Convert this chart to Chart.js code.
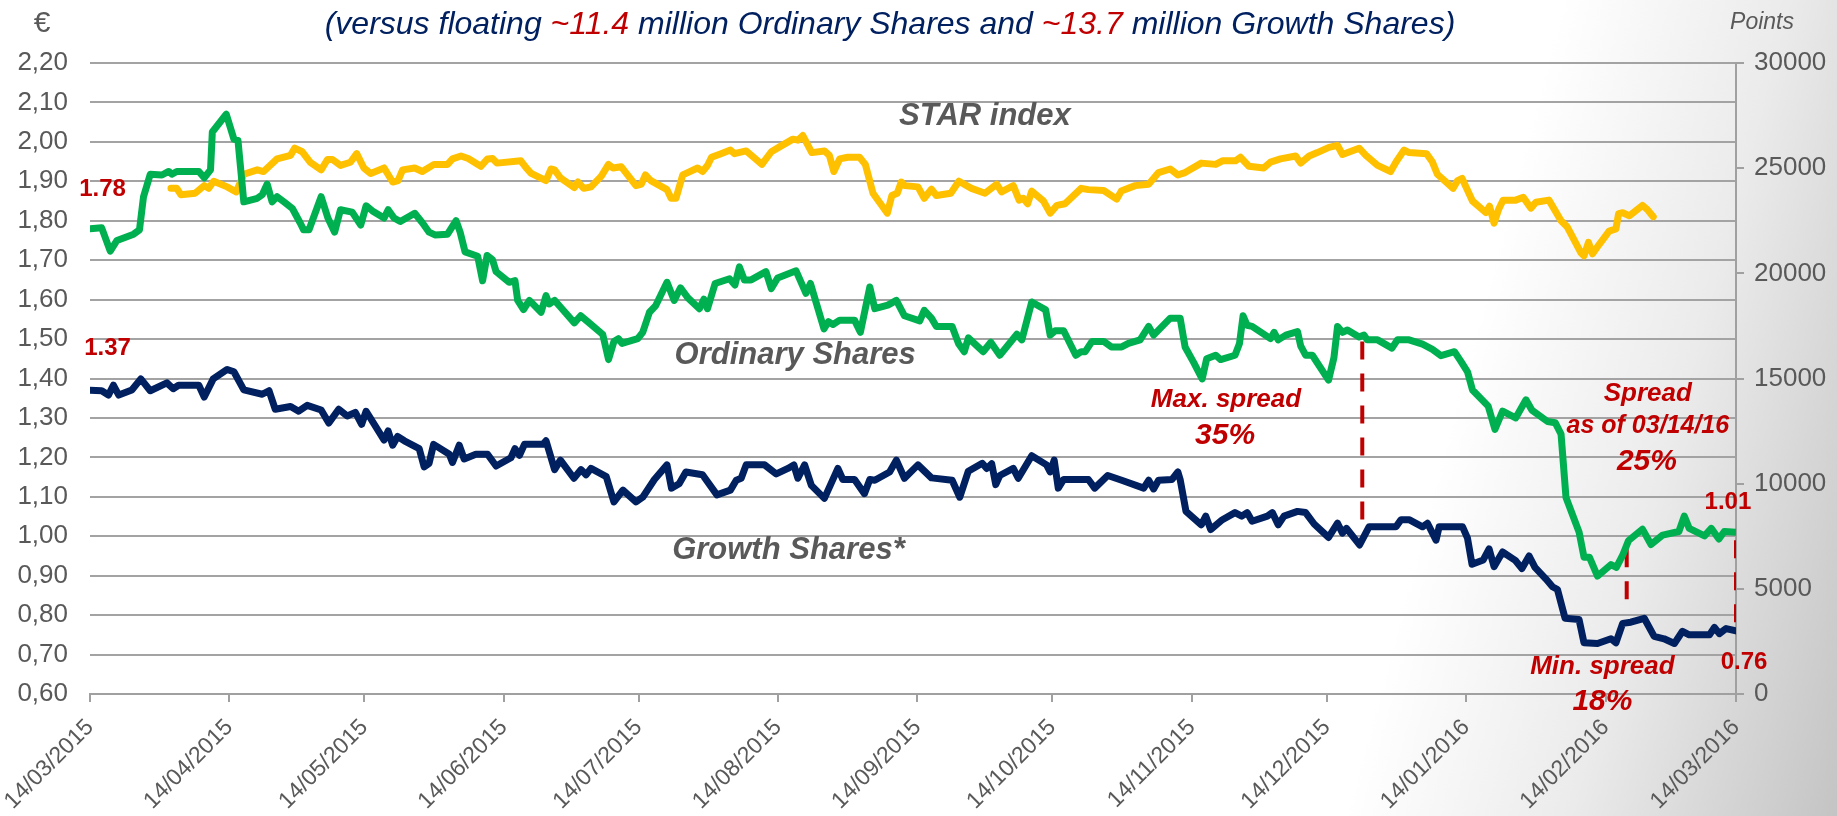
<!DOCTYPE html>
<html>
<head>
<meta charset="utf-8">
<script src="https://cdn.jsdelivr.net/npm/chart.js@4.4.1/dist/chart.umd.min.js"></script>
<style>
  html, body { margin: 0; padding: 0; }
  body {
    width: 1837px; height: 816px; overflow: hidden;
    background: linear-gradient(105deg, #ffffff 0%, #ffffff 76%, #ebebeb 87%, #c4c4c4 100%);
  }
  #wrap { position: absolute; left: 0; top: 0; width: 1837px; height: 816px; }
</style>
</head>
<body>
<div id="wrap"><canvas id="c" width="1837" height="816"></canvas></div>
<script>
// ---- X axis: days since 14/03/2015 ----
const monthDays = [0, 31, 61, 92, 122, 153, 184, 214, 245, 275, 306, 337, 366];
const monthLabels = ['14/03/2015','14/04/2015','14/05/2015','14/06/2015','14/07/2015','14/08/2015',
  '14/09/2015','14/10/2015','14/11/2015','14/12/2015','14/01/2016','14/02/2016','14/03/2016'];
const leftTicks = [0.6,0.7,0.8,0.9,1.0,1.1,1.2,1.3,1.4,1.5,1.6,1.7,1.8,1.9,2.0,2.1,2.2];
const rightTicks = [0, 5000, 10000, 15000, 20000, 25000, 30000];

// ---- Ordinary Shares (EUR) ----
const ordDays = [0,2.6,4.5,6.0,9.7,11.0,11.9,13.4,16.0,17.5,18.2,19.3,24.2,25.4,26.8,27.2,30.3,32.0,32.9,34.2,
  37.2,38.3,39.4,40.5,41.6,43.1,45.0,46.8,47.5,48.7,51.4,52.9,54.4,55.7,58.3,60.2,61.4,62.8,65.4,66.3,
  67.6,69.0,72.2,73.9,75.4,76.7,79.5,81.4,82.3,83.4,86.2,87.3,88.3,89.5,90.3,93.2,94.5,95.1,96.4,97.7,
  100.3,101.4,102.1,103.3,104.7,107.7,109.1,110.7,114.0,115.3,116.5,117.5,118.3,121.8,122.9,124.4,125.8,128.3,129.9,131.3,
  132.9,135.5,136.5,137.3,139.0,142.2,143.4,144.4,145.5,147.0,150.3,151.5,152.9,157.0,159.2,160.2,163.2,164.2,165.2,166.7,
  170.0,171.3,173.4,174.5,177.4,179.3,181.1,184.5,185.5,187.1,188.2,191.7,193.1,194.4,195.3,198.6,200.3,202.3,206.1,207.2,
  209.4,212.5,213.5,214.6,216.5,219.2,220.4,221.3,222.8,225.4,227.1,229.4,230.9,233.5,235.4,236.5,240.2,242.4,243.5,245.4,
  247.3,248.3,250.3,251.4,254.6,255.6,256.4,257.3,258.4,262.5,263.3,264.2,265.9,268.5,269.2,270.3,271.8,275.4,276.6,277.4,
  278.5,279.6,282.2,283.3,284.0,286.3,289.5,290.7,293.3,296.3,298.5,300.4,303.4,304.8,306.3,307.4,310.9,312.4,314.1,317.0,
  319.3,320.6,324.1,325.8,327.1,328.2,331.1,332.2,333.4,335.2,338.2,339.4,340.8,342.1,345.2,347.1,349.7,353.3,354.5,355.6,
  359.0,360.5,362.2,363.4,366.0];
const ordValues = [1.78,1.782,1.723,1.750,1.766,1.777,1.861,1.918,1.916,1.925,1.918,1.925,1.925,1.909,1.929,2.025,2.070,2.007,2.004,1.848,
  1.857,1.866,1.893,1.848,1.861,1.848,1.831,1.793,1.777,1.777,1.861,1.807,1.771,1.828,1.822,1.789,1.838,1.825,1.807,1.828,
  1.807,1.798,1.819,1.795,1.771,1.764,1.766,1.800,1.771,1.721,1.710,1.648,1.712,1.701,1.671,1.644,1.648,1.598,1.575,1.598,
  1.568,1.610,1.589,1.598,1.580,1.541,1.559,1.544,1.512,1.448,1.494,1.501,1.489,1.501,1.517,1.568,1.585,1.644,1.598,1.630,
  1.605,1.577,1.601,1.577,1.641,1.653,1.637,1.683,1.650,1.650,1.671,1.628,1.655,1.673,1.616,1.641,1.526,1.544,1.537,1.548,
  1.548,1.517,1.632,1.577,1.586,1.598,1.559,1.546,1.573,1.553,1.532,1.532,1.489,1.468,1.503,1.468,1.492,1.459,1.512,1.498,
  1.594,1.574,1.510,1.521,1.521,1.459,1.468,1.468,1.494,1.494,1.480,1.480,1.489,1.498,1.532,1.510,1.553,1.553,1.480,1.441,
  1.399,1.450,1.459,1.448,1.459,1.489,1.559,1.535,1.532,1.501,1.517,1.498,1.510,1.519,1.483,1.459,1.459,1.396,1.453,1.532,
  1.517,1.523,1.505,1.510,1.498,1.498,1.477,1.498,1.498,1.487,1.474,1.458,1.468,1.444,1.417,1.371,1.330,1.271,1.317,1.300,
  1.346,1.320,1.291,1.288,1.259,1.098,1.011,0.947,0.947,0.899,0.928,0.921,0.952,0.989,1.018,0.979,1.003,1.012,1.051,1.020,
  1.001,1.020,0.993,1.012,1.010];

// ---- Growth Shares (EUR) ----
const grDays = [0,2.6,4.1,5.2,6.4,9.3,11.3,13.4,17.1,18.5,19.7,24.2,25.4,27.4,30.5,32.0,34.2,38.3,39.8,41.2,
  44.6,46.4,48.3,51.4,53.1,55.3,57.2,59.0,60.4,61.4,65.4,66.3,67.3,68.4,69.9,73.2,74.3,75.4,76.4,79.9,
  80.6,82.1,83.2,85.8,88.4,90.3,93.6,94.5,95.5,96.6,100.7,101.4,103.3,104.6,107.6,109.2,110.3,111.4,114.8,116.5,
  118.5,121.4,122.9,125.5,128.3,129.3,131.0,132.5,136.2,139.4,142.4,143.7,144.8,145.9,150.0,152.6,155.2,156.5,157.4,158.9,
  160.4,163.3,166.3,167.4,170.0,172.2,173.4,174.5,177.8,179.3,181.1,184.1,187.1,191.7,193.4,195.3,198.4,199.4,200.5,201.4,
  202.3,205.3,206.4,209.4,212.7,213.5,214.4,215.3,216.5,222.0,223.4,226.3,229.4,234.3,235.4,236.5,237.6,240.6,241.9,242.4,
  243.7,247.1,248.1,249.2,251.8,254.6,256.1,257.3,258.4,261.8,262.9,264.2,265.5,268.5,270.3,272.2,275.4,277.4,278.5,279.4,
  282.3,284.4,290.4,291.5,293.3,296.3,297.4,299.3,300.0,305.2,306.3,307.3,309.8,311.1,312.2,314.1,317.0,318.4,320.0,321.3,
  323.7,325.2,326.3,328.0,331.1,332.2,335.2,338.2,339.3,340.8,342.6,345.6,347.8,350.0,352.3,354.1,355.6,360.1,361.2,362.3,
  363.8,366.0];
const grValues = [1.37,1.369,1.358,1.383,1.358,1.371,1.399,1.369,1.389,1.374,1.383,1.383,1.353,1.399,1.423,1.417,1.371,1.360,1.369,1.322,
  1.329,1.317,1.332,1.320,1.287,1.322,1.305,1.314,1.284,1.317,1.244,1.267,1.231,1.253,1.242,1.222,1.176,1.185,1.233,1.208,
  1.187,1.231,1.196,1.208,1.208,1.178,1.199,1.222,1.205,1.233,1.233,1.242,1.169,1.193,1.147,1.169,1.156,1.172,1.151,1.087,
  1.117,1.087,1.099,1.144,1.181,1.122,1.133,1.163,1.156,1.105,1.117,1.142,1.147,1.181,1.181,1.158,1.172,1.181,1.147,1.181,
  1.129,1.096,1.172,1.144,1.144,1.108,1.144,1.142,1.163,1.193,1.147,1.181,1.148,1.142,1.099,1.165,1.185,1.172,1.184,1.131,
  1.154,1.172,1.147,1.204,1.181,1.163,1.193,1.122,1.144,1.144,1.122,1.154,1.142,1.122,1.142,1.120,1.142,1.144,1.163,1.144,
  1.063,1.029,1.051,1.017,1.042,1.060,1.051,1.060,1.038,1.051,1.060,1.029,1.051,1.063,1.060,1.031,0.997,1.033,1.008,1.020,
  0.978,1.024,1.024,1.042,1.042,1.024,1.033,0.990,1.024,1.024,0.995,0.929,0.940,0.968,0.923,0.960,0.938,0.918,0.950,0.921,
  0.892,0.872,0.865,0.792,0.789,0.730,0.728,0.740,0.730,0.779,0.782,0.792,0.746,0.740,0.728,0.759,0.750,0.750,0.769,0.753,
  0.766,0.760];

// ---- STAR index (points, right axis) ----
const starDays = [18.0,19.3,20.2,23.4,25.4,26.4,27.5,30.5,32.5,34.2,37.2,38.6,41.6,44.6,45.5,47.2,49.0,51.4,52.8,53.9,
  55.7,57.9,59.3,60.9,62.4,65.4,67.3,68.5,69.5,72.2,73.9,76.5,79.5,80.6,82.5,84.1,86.9,88.4,89.5,90.5,
  95.8,97.0,98.1,101.4,102.5,103.3,104.6,107.7,108.5,109.8,111.4,113.7,115.3,116.3,118.1,121.4,122.6,123.5,124.7,128.3,
  129.2,130.3,131.8,132.9,135.1,136.2,137.3,138.2,140.3,142.4,143.3,145.9,149.4,151.5,153.7,156.3,157.4,158.5,160.5,163.3,
  164.4,165.4,166.7,168.5,171.1,172.4,174.1,177.3,178.3,179.5,180.4,181.2,184.1,185.5,187.1,188.2,191.4,193.2,196.0,199.0,
  201.6,202.7,205.3,206.6,207.5,208.5,209.4,212.0,213.5,215.0,216.8,220.4,222.0,225.4,228.3,229.3,232.4,235.4,237.6,240.2,
  241.9,243.5,247.1,250.3,251.8,254.7,255.8,257.7,261.0,262.5,264.7,268.1,269.2,271.1,272.9,275.5,277.4,278.5,282.2,283.7,
  286.3,289.2,290.4,292.2,293.3,297.2,298.5,299.6,303.1,304.1,305.1,307.4,310.4,311.2,312.2,313.2,314.2,317.0,318.7,320.4,
  321.5,324.4,327.1,328.5,331.5,332.2,333.2,334.1,335.6,337.8,339.3,339.9,340.8,342.3,345.2,346.3,347.6];
const starValues = [24040,24040,23740,23810,24170,24040,24380,24110,23870,24710,24920,24840,25440,25610,25950,25780,25280,24920,25410,25410,
  25130,25280,25690,25010,24750,25010,24340,24410,24920,25010,24840,25180,25180,25440,25580,25460,25090,25440,25460,25240,
  25350,25010,24750,24410,24960,24920,24540,24080,24340,24040,24110,24620,25180,25010,25070,24170,24240,24680,24410,23980,
  23570,23570,24680,24790,25010,24840,25130,25520,25690,25860,25690,25820,25180,25780,26060,26380,26330,26550,25740,25820,
  25610,24840,25440,25520,25520,25180,23810,22860,23700,23810,24340,24170,24110,23570,24000,23700,23810,24380,24040,23810,
  24240,23870,24170,23480,23570,23310,23910,23440,22860,23230,23310,24040,23980,23940,23530,23910,24170,24240,24790,24960,
  24680,24790,25240,25180,25350,25350,25520,25090,25010,25290,25440,25580,25240,25580,25740,25990,26080,25650,25950,25610,
  25130,24840,25290,25860,25740,25690,25290,24710,24040,24410,24510,23440,22890,23190,22390,23030,23480,23480,23610,23100,
  23380,23480,22500,22200,20980,20830,21470,20930,21380,22010,22110,22840,22880,22740,23230,23030,22690];

// ---- Spread markers (EUR) ----
const maxSpreadDay = 282.9, maxSpreadRange = [1.494, 1.017];
const minSpreadDay = 341.7, minSpreadRange = [0.967, 0.816];
const lastSpreadDay = 366, lastSpreadRange = [0.990, 0.780];

const RED = '#c00000', NAVY = '#002060', GREEN = '#00b050', GOLD = '#ffc000', GREY = '#595959';
const FONT = '"Liberation Sans", Arial, Helvetica, sans-serif';

const pts = (xs, ys) => xs.map((x, i) => ({ x: x, y: ys[i] }));
const seg = (d, r) => [{ x: d, y: r[0] }, { x: d, y: r[1] }];

// text labels placed in data coordinates (day, EUR)
const notes = [
  { t: '1.78', d: 2.8, v: 1.879, f: 'bold 24px', c: RED },
  { t: '1.37', d: 3.9, v: 1.476, f: 'bold 24px', c: RED },
  { t: 'STAR index', d: 199, v: 2.064, f: 'italic bold 31px', c: GREY },
  { t: 'Ordinary Shares', d: 156.8, v: 1.458, f: 'italic bold 31px', c: GREY },
  { t: 'Growth Shares*', d: 155.3, v: 0.963, f: 'italic bold 31px', c: GREY },
  { t: 'Max. spread', d: 252.6, v: 1.346, f: 'italic bold 26px', c: RED },
  { t: '35%', d: 252.4, v: 1.255, f: 'italic bold 30px', c: RED },
  { t: 'Spread', d: 346.4, v: 1.361, f: 'italic bold 26px', c: RED },
  { t: 'as of 03/14/16', d: 346.4, v: 1.280, f: 'italic bold 25px', c: RED },
  { t: '25%', d: 346.2, v: 1.189, f: 'italic bold 30px', c: RED },
  { t: '1.01', d: 364.2, v: 1.087, f: 'bold 24px', c: RED },
  { t: '0.76', d: 367.8, v: 0.681, f: 'bold 24px', c: RED },
  { t: 'Min. spread', d: 336.3, v: 0.669, f: 'italic bold 26px', c: RED },
  { t: '18%', d: 336.3, v: 0.580, f: 'italic bold 30px', c: RED }
];

const titleParts = [
  ['(versus floating ', NAVY], ['~11.4', RED], [' million Ordinary Shares and ', NAVY],
  ['~13.7', RED], [' million Growth Shares)', NAVY]
];

const textPlugin = {
  id: 'texts',
  beforeDatasetsDraw(chart) {
    const ctx = chart.ctx, sx = chart.scales.x, sy = chart.scales.y;
    ctx.save();
    ctx.textAlign = 'center';
    ctx.textBaseline = 'middle';
    notes.forEach(n => {
      ctx.font = n.f + ' ' + FONT;
      ctx.fillStyle = n.c;
      ctx.fillText(n.t, sx.getPixelForValue(n.d), sy.getPixelForValue(n.v));
    });
    ctx.restore();
  },
  afterDraw(chart) {
    const ctx = chart.ctx;
    ctx.save();
    ctx.textBaseline = 'middle';
    ctx.textAlign = 'left';
    ctx.font = 'italic 32px ' + FONT;
    const total = titleParts.reduce((s, p) => s + ctx.measureText(p[0]).width, 0);
    let x = 890 - total / 2;
    titleParts.forEach(p => {
      ctx.fillStyle = p[1];
      ctx.fillText(p[0], x, 25);
      x += ctx.measureText(p[0]).width;
    });
    ctx.fillStyle = GREY;
    ctx.font = '30px ' + FONT;
    ctx.textAlign = 'center';
    ctx.fillText('€', 42, 24);
    ctx.font = 'italic 23px ' + FONT;
    ctx.fillText('Points', 1762, 23);
    ctx.restore();
  }
};

const lineStyle = { pointRadius: 0, borderWidth: 7, tension: 0, borderJoinStyle: 'round', borderCapStyle: 'round', fill: false };
const dashStyle = { pointRadius: 0, borderWidth: 4, borderColor: RED, borderDash: [18, 14], borderCapStyle: 'butt', fill: false, yAxisID: 'y' };

new Chart(document.getElementById('c'), {
  type: 'line',
  data: {
    datasets: [
      Object.assign({ label: 'Ordinary Shares', data: pts(ordDays, ordValues), borderColor: GREEN, yAxisID: 'y' }, lineStyle),
      Object.assign({ label: 'Growth Shares*', data: pts(grDays, grValues), borderColor: NAVY, yAxisID: 'y' }, lineStyle),
      Object.assign({ label: 'STAR index', data: pts(starDays, starValues), borderColor: GOLD, yAxisID: 'y2' }, lineStyle),
      Object.assign({ label: 'Max. spread', data: seg(maxSpreadDay, maxSpreadRange) }, dashStyle),
      Object.assign({ label: 'Min. spread', data: seg(minSpreadDay, minSpreadRange) }, dashStyle),
      Object.assign({ label: 'Spread 03/14/16', data: seg(lastSpreadDay, lastSpreadRange) }, dashStyle)
    ]
  },
  options: {
    responsive: false,
    animation: false,
    layout: { padding: { top: 63, left: 0, right: 0, bottom: 0 } },
    plugins: { legend: { display: false }, tooltip: { enabled: false }, title: { display: false } },
    scales: {
      x: {
        type: 'linear', position: 'bottom', min: 0, max: 366,
        afterFit(s) { s.height = 122; s.paddingLeft = 0; s.paddingRight = 0; },
        afterBuildTicks(s) { s.ticks = monthDays.map(v => ({ value: v })); },
        grid: { drawOnChartArea: false, drawTicks: true, tickLength: 8, color: '#a0a0a0', lineWidth: 2 },
        border: { display: true, color: '#a0a0a0', width: 2 },
        ticks: {
          autoSkip: false, maxRotation: 45, minRotation: 45, padding: 12,
          color: GREY, font: { family: FONT, size: 23 },
          callback: v => monthLabels[monthDays.indexOf(v)]
        }
      },
      y: {
        type: 'linear', position: 'left', min: 0.6, max: 2.2,
        afterFit(s) { s.width = 90; s.paddingTop = 0; s.paddingBottom = 0; },
        afterBuildTicks(s) { s.ticks = leftTicks.map(v => ({ value: v })); },
        grid: { color: '#a3a3a3', lineWidth: 2, drawTicks: false },
        border: { display: false },
        ticks: {
          padding: 22, color: GREY, font: { family: FONT, size: 26 },
          callback: v => Number(v).toFixed(2).replace('.', ',')
        }
      },
      y2: {
        type: 'linear', position: 'right', min: 0, max: 30000,
        afterFit(s) { s.width = 101; s.paddingTop = 0; s.paddingBottom = 0; },
        afterBuildTicks(s) { s.ticks = rightTicks.map(v => ({ value: v })); },
        grid: { drawOnChartArea: false, drawTicks: true, tickLength: 8, color: '#a0a0a0', lineWidth: 2 },
        border: { display: true, color: '#a0a0a0', width: 2 },
        ticks: { padding: 10, color: GREY, font: { family: FONT, size: 26 }, callback: v => String(v) }
      }
    }
  },
  plugins: [textPlugin]
});
</script>
</body>
</html>
